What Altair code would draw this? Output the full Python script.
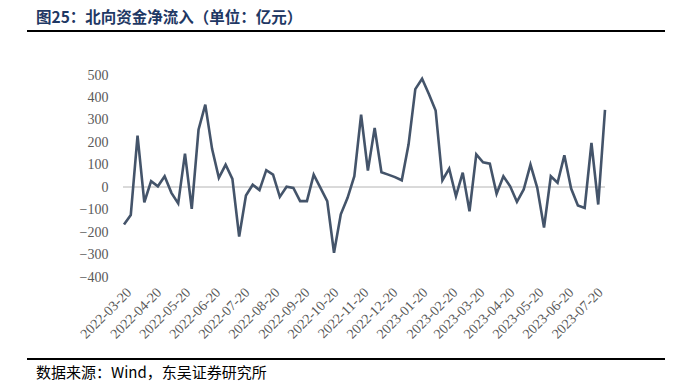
import altair as alt
import pandas as pd

start_date = "2022-03-20"
values = [-166, -124, 230, -67, 27, 4, 49, -25, -72, 150,
          -96, 256, 368, 171, 42, 100, 37, -220, -37, 11,
          -13, 76, 56, -43, 2, -3, -62, -62, 56, -3,
          -62, -292, -121, -47, 49, 323, 74, 264, 67, 56,
          45, 31, 190, 437, 483, 415, 342, 31, 83, -40,
          65, -107, 146, 111, 105, -29, 49, 4, -65, -10,
          101, -3, -180, 49, 20, 142, -6, -81, -92, 197,
          -77, 345]
tick_dates = ["2022-03-20", "2022-04-20", "2022-05-20", "2022-06-20", "2022-07-20",
              "2022-08-20", "2022-09-20", "2022-10-20", "2022-11-20", "2022-12-20",
              "2023-01-20", "2023-02-20", "2023-03-20", "2023-04-20", "2023-05-20",
              "2023-06-20", "2023-07-20"]
y_ticks = [500, 400, 300, 200, 100, 0, -100, -200, -300, -400]
title_text = "图25：北向资金净流入（单位：亿元）"
source_text = "数据来源：Wind，东吴证券研究所"

dates = pd.date_range(start_date, periods=len(values), freq="7D")
df = pd.DataFrame({"date": dates.strftime("%Y-%m-%d"), "value": values})

W, H = 481, 202
serif = "Liberation Serif"
cjk = "Noto Sans CJK SC"

x_scale = alt.Scale(domain=[dates[0].strftime("%Y-%m-%d"), dates[-1].strftime("%Y-%m-%d")])
y_scale = alt.Scale(domain=[-400, 500], nice=False, zero=False)

tick_objs = [alt.DateTime(year=int(d[:4]), month=int(d[5:7]), date=int(d[8:])) for d in tick_dates]

y_axis = alt.Axis(values=y_ticks, labelFont=serif, labelFontSize=14,
                  labelColor="#595959", domain=False, ticks=False,
                  grid=False, title=None, labelPadding=16,
                  labelOverlap=False, labelFlush=False, labelBound=False)
x_axis = alt.Axis(values=tick_objs, format="%Y-%m-%d", labelAngle=-45,
                  labelAlign="right", labelBaseline="top",
                  labelFont=serif, labelFontSize=14, labelColor="#595959",
                  domain=False, ticks=False, grid=False, title=None,
                  labelPadding=8, labelOverlap=False, labelBound=False,
                  labelFlush=False)

zero = alt.Chart(df).mark_rule(color="#D9D9D9", strokeWidth=1.5).encode(
    y=alt.YDatum(0, scale=y_scale, axis=y_axis), x=alt.value(-1), x2=alt.value(W)
)

line = alt.Chart(df).mark_line(color="#44546A", strokeWidth=2.6, strokeJoin="miter").encode(
    x=alt.X("date:T", scale=x_scale, axis=x_axis),
    y=alt.Y("value:Q", scale=y_scale, axis=y_axis)
)

title_rule = alt.Chart(df).mark_rule(color="#000000", strokeWidth=2).encode(
    x=alt.value(-97), x2=alt.value(542), y=alt.value(-44)
)
foot_rule = alt.Chart(df).mark_rule(color="#000000", strokeWidth=2).encode(
    x=alt.value(-97), x2=alt.value(542), y=alt.value(284)
)
title = alt.Chart(pd.DataFrame({"t": [title_text]})).mark_text(
    align="left", baseline="alphabetic", font=cjk, fontSize=15.5, fontWeight="bold",
    color="#1F3864"
).encode(text="t:N", x=alt.value(-88), y=alt.value(-52))
footer = alt.Chart(pd.DataFrame({"t": [source_text]})).mark_text(
    align="left", baseline="alphabetic", font=cjk, fontSize=15, color="#000000"
).encode(text="t:N", x=alt.value(-88), y=alt.value(303))

chart = alt.layer(zero, line, title_rule, foot_rule, title, footer).properties(
    width=W, height=H,
    autosize=alt.AutoSizeParams(type="none"),
    padding={"left": 116, "top": 67, "right": 60, "bottom": 110},
).configure_view(stroke=None)

chart.save("out.html", embed_options={"renderer": "svg", "actions": False})
